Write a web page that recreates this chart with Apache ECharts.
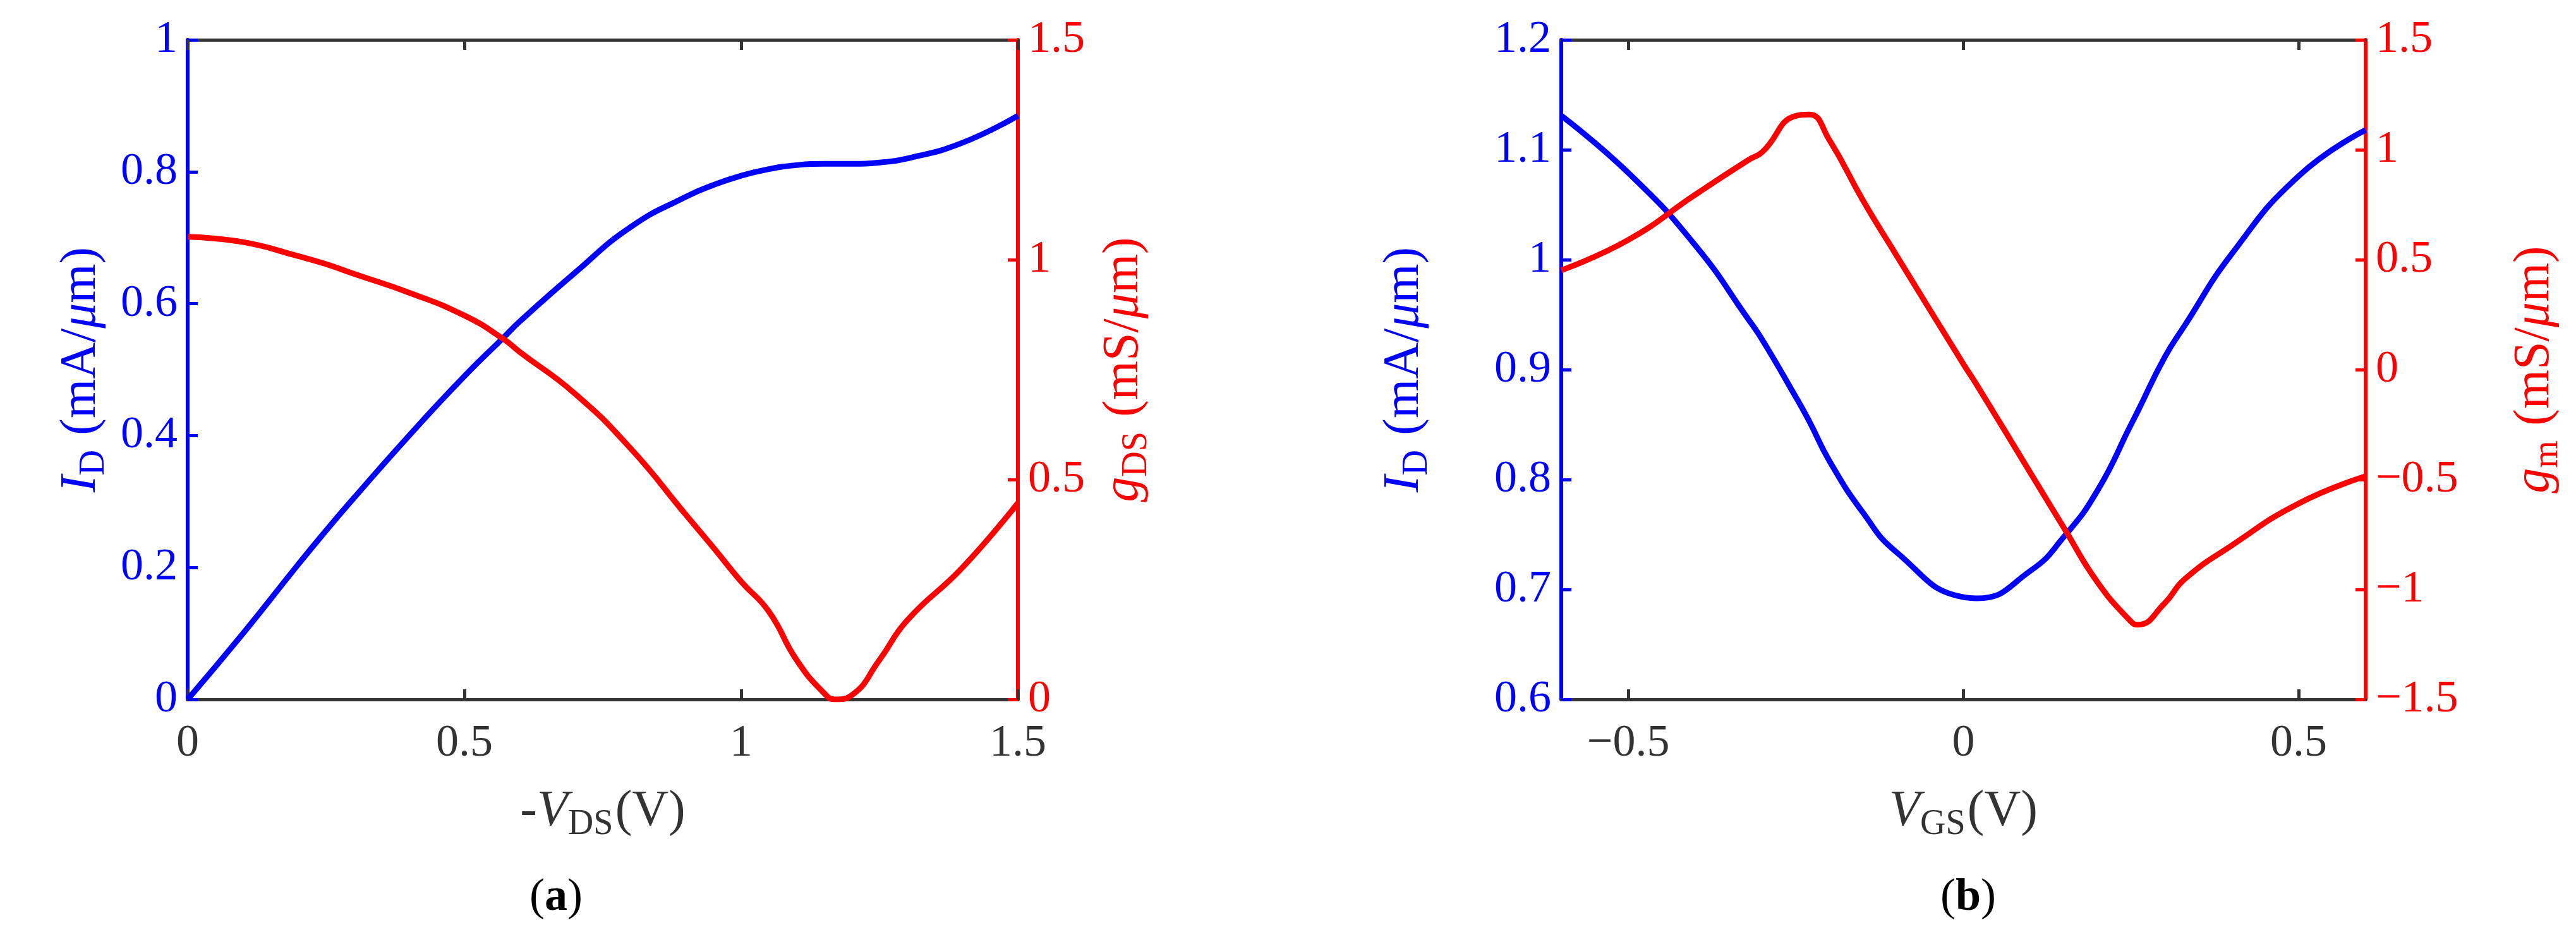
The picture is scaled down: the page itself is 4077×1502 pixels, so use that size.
<!DOCTYPE html>
<html><head><meta charset="utf-8">
<script src="https://cdn.jsdelivr.net/npm/echarts@6/dist/echarts.min.js"></script>
<style>html,body{margin:0;padding:0;background:#fff}#c{width:4077px;height:1502px}</style>
</head><body><div id="c"></div>
<script>
// Panel (a)
const vdsA = [0,0.1,0.2,0.25,0.3,0.4,0.5,0.57,0.6,0.7,0.8,0.9,0.95,1.0,1.05,1.1,1.15,1.17,1.2,1.25,1.3,1.4,1.5];
const idA  = [0,0.1,0.205,0.256,0.305,0.4,0.49,0.548,0.573,0.647,0.716,0.762,0.78,0.794,0.804,0.81,0.812,0.812,0.812,0.814,0.82,0.844,0.885];
const gdsA = [1.052,1.04,1.008,0.99,0.968,0.925,0.873,0.82,0.79,0.695,0.571,0.42,0.345,0.268,0.2,0.09,0.014,0.0,0.01,0.09,0.18,0.30,0.447];
const ticksA = [0,0.5,1,1.5];
// Panel (b)
const vgsB = [-0.6,-0.5,-0.4,-0.32,-0.3,-0.25,-0.23,-0.2,-0.15,-0.1,0,0.02,0.1,0.15,0.2,0.25,0.26,0.3,0.33,0.4,0.5,0.6];
const idB  = [1.131,1.079,1.013,0.945,0.927,0.875,0.853,0.817,0.77,0.734,0.693,0.692,0.717,0.748,0.79,0.85,0.862,0.911,0.94,1.005,1.076,1.118];
const gmB  = [0.452,0.59,0.796,0.955,0.99,1.154,1.16,1.044,0.77,0.52,0.025,-0.07,-0.47,-0.72,-0.967,-1.146,-1.16,-1.063,-0.953,-0.80,-0.609,-0.485];
const ticksB = [-0.5,0,0.5];

const pairs = (xs, ys) => xs.map((x,i)=>[x,ys[i]]);
const F = 'Liberation Serif, DejaVu Serif, serif';
const BLUE = '#0000ff', RED = '#ff0000', DARK = '#333333';
const fmt = v => { const s = (+(+v).toFixed(2)).toString(); return v < 0 ? '\u2212' + s.slice(1) : s; };
const rich = c => ({
  i:{fontFamily:F,fontStyle:'italic',fontSize:80,color:c},
  s:{fontFamily:F,fontSize:56,color:c,padding:[40,0,0,0]},
  n:{fontFamily:F,fontSize:80,color:c}
});
function xAxes(gi, min, max, ticks, nameTxt){
  return [
    {gridIndex:gi,type:'value',min,max,position:'bottom',
     axisLine:{onZero:false,lineStyle:{color:DARK,width:5}},
     axisTick:{inside:true,length:16,customValues:ticks,lineStyle:{color:DARK,width:5}},
     axisLabel:{color:DARK,fontFamily:F,fontSize:72,margin:34,formatter:fmt,customValues:ticks},
     splitLine:{show:false},name:nameTxt,nameLocation:'middle',nameGap:130,
     nameTextStyle:{rich:rich(DARK)}},
    {gridIndex:gi,type:'value',min,max,position:'top',
     axisLine:{onZero:false,lineStyle:{color:DARK,width:5}},
     axisTick:{inside:true,length:16,customValues:ticks,lineStyle:{color:DARK,width:5}},
     axisLabel:{show:false},splitLine:{show:false}}
  ];
}
function yAxis(gi, pos, min, max, interval, color, nameTxt, gap){
  return {gridIndex:gi,type:'value',position:pos,min,max,interval,
    axisLine:{onZero:false,lineStyle:{color,width:6}},axisTick:{inside:true,length:16,lineStyle:{color,width:5}},
    axisLabel:{color,fontFamily:F,fontSize:72,margin:16,formatter:fmt},splitLine:{show:false},
    name:nameTxt,nameLocation:'middle',nameGap:gap,nameRotate:90,nameTextStyle:{rich:rich(color)}};
}
const titleStyle = {rich:{a:{fontFamily:F,fontWeight:'bold',fontSize:72,color:'#000'}},fontFamily:F,fontSize:72,color:'#000',fontWeight:'normal'};
const chart = echarts.init(document.getElementById('c'));
chart.setOption({
  animation:false,
  title:[
    {text:'({a|a})',left:875,top:1380,textAlign:'center',textStyle:titleStyle},
    {text:'({a|b})',left:3110,top:1380,textAlign:'center',textStyle:titleStyle}
  ],
  grid:[
    {left:297,top:63,width:1314,height:1044},
    {left:2471,top:63,width:1273,height:1044}
  ],
  xAxis:[...xAxes(0,0,1.5,ticksA,'{n|-}{i|V}{s|DS} {n|(V)}'), ...xAxes(1,-0.6,0.6,ticksB,'{i|V}{s|GS} {n|(V)}')],
  yAxis:[
    yAxis(0,'left',0,1,0.2,BLUE,'{i|I}{s|D} {n| (mA/}{i|μ}{n|m)}',120),
    yAxis(0,'right',0,1.5,0.5,RED,'{i|g}{s|DS} {n| (mS/}{i|μ}{n|m)}',120),
    yAxis(1,'left',0.6,1.2,0.1,BLUE,'{i|I}{s|D} {n| (mA/}{i|μ}{n|m)}',200),
    yAxis(1,'right',-1.5,1.5,0.5,RED,'{i|g}{s|m} {n| (mS/}{i|μ}{n|m)}',220)
  ],
  series:[
    {type:'line',xAxisIndex:0,yAxisIndex:0,data:pairs(vdsA,idA),smooth:0.5,showSymbol:false,lineStyle:{color:BLUE,width:9}},
    {type:'line',xAxisIndex:0,yAxisIndex:1,data:pairs(vdsA,gdsA),smooth:0.5,showSymbol:false,lineStyle:{color:RED,width:9}},
    {type:'line',xAxisIndex:2,yAxisIndex:2,data:pairs(vgsB,idB),smooth:0.5,showSymbol:false,lineStyle:{color:BLUE,width:9}},
    {type:'line',xAxisIndex:2,yAxisIndex:3,data:pairs(vgsB,gmB),smooth:0.5,showSymbol:false,lineStyle:{color:RED,width:9}}
  ]
});
</script></body></html>
